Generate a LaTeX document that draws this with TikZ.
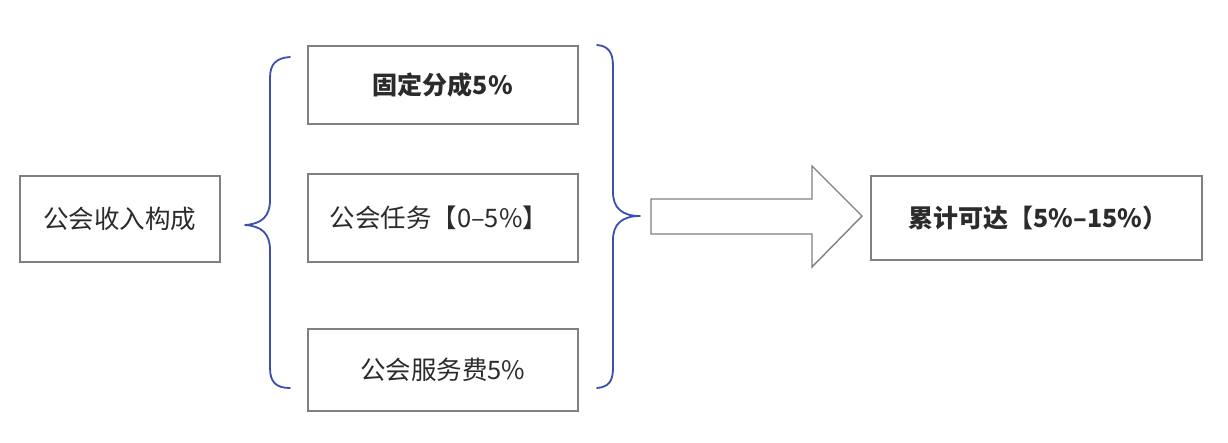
\documentclass[tikz,border=0pt]{standalone}
\usepackage{fontspec}
\newfontfamily\cjk{Noto Sans CJK SC}
\begin{document}
\begin{tikzpicture}[x=1pt,y=-1pt,
  box/.style={draw=boxgray,line width=1.6pt,fill=white,inner sep=0pt,anchor=north west},
  lbl/.style={font=\cjk\fontsize{25.5}{28}\selectfont,text=txt},
  blbl/.style={font=\cjk\bfseries\fontsize{25}{28}\selectfont,text=txt},
  brace/.style={draw=braceblue,line width=1.8pt,line cap=round,line join=round},
  bigarrow/.style={draw=boxgray,line width=1.4pt,fill=white,line join=miter}]
\definecolor{boxgray}{HTML}{808080}
\definecolor{braceblue}{HTML}{3A4FB0}
\definecolor{txt}{HTML}{2B2B2B}
\useasboundingbox (0,0) rectangle (1228,442);
\fill[white] (0,0) rectangle (1228,442);
% boxes
\node[box,minimum width=200pt,minimum height=86pt] (src) at (19,175) {};
\node[lbl] at (src.center) {公会收入构成};
\node[box,minimum width=270pt,minimum height=78pt] (b1) at (307,45) {};
\node[blbl] at (b1.center) {固定分成5\%};
\node[box,minimum width=270pt,minimum height=88pt] (b2) at (307,173) {};
\node[lbl,anchor=west] at ([xshift=19pt]b2.west) {公会任务【0–5\%】};
\node[box,minimum width=270pt,minimum height=82pt] (b3) at (307,328) {};
\node[lbl] at (b3.center) {公会服务费5\%};
\node[box,minimum width=331pt,minimum height=84pt] (res) at (870,175) {};
\node[blbl,anchor=west] at ([xshift=35pt]res.west) {累计可达【5\%–15\%）};
% left brace
\coordinate (lt) at (290,57);
\coordinate (ltip) at (245,225);
\coordinate (lb) at (290,388);
\draw[brace] (lt) .. controls (276,58) and (270,64) .. (270,78)
  -- (270,200) .. controls (270,216) and (262,224) .. (ltip)
  .. controls (262,226) and (270,234) .. (270,250)
  -- (270,368) .. controls (270,382) and (276,388) .. (lb);
% right brace
\coordinate (rt) at (597,45);
\coordinate (rtip) at (640,216);
\coordinate (rb) at (597,388);
\draw[brace] (rt) .. controls (608,46) and (613,52) .. (613,66)
  -- (613,192) .. controls (613,208) and (622,216) .. (rtip)
  .. controls (622,216) and (613,224) .. (613,240)
  -- (613,368) .. controls (613,382) and (608,387) .. (rb);
% block arrow
\coordinate (atip) at (862,216);
\draw[bigarrow] (651,199) -- (812,199) -- (812,166) -- (atip) -- (812,267) -- (812,234) -- (651,234) -- cycle;
\end{tikzpicture}
\end{document}
